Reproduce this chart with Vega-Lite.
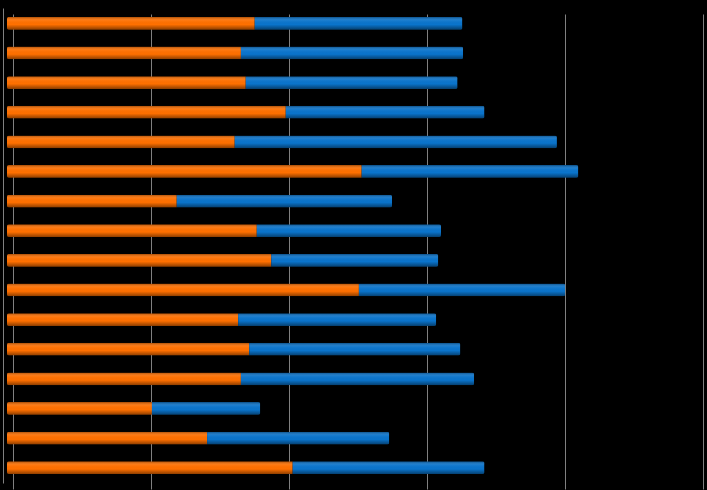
{
  "$schema": "https://vega.github.io/schema/vega-lite/v6.json",
  "width": 690,
  "height": 475,
  "autosize": "none",
  "padding": {"left": 7, "top": 8, "right": 10, "bottom": 7},
  "background": "#000000",
  "config": {"view": {"stroke": null}},
  "data": {"values": [
    {"cat": "1", "serie": "Serie 1", "v": 35.9}, {"cat": "1", "serie": "Serie 2", "v": 30.1},
    {"cat": "2", "serie": "Serie 1", "v": 33.9}, {"cat": "2", "serie": "Serie 2", "v": 32.2},
    {"cat": "3", "serie": "Serie 1", "v": 34.6}, {"cat": "3", "serie": "Serie 2", "v": 30.7},
    {"cat": "4", "serie": "Serie 1", "v": 40.4}, {"cat": "4", "serie": "Serie 2", "v": 28.8},
    {"cat": "5", "serie": "Serie 1", "v": 33.0}, {"cat": "5", "serie": "Serie 2", "v": 46.7},
    {"cat": "6", "serie": "Serie 1", "v": 51.4}, {"cat": "6", "serie": "Serie 2", "v": 31.4},
    {"cat": "7", "serie": "Serie 1", "v": 24.6}, {"cat": "7", "serie": "Serie 2", "v": 31.2},
    {"cat": "8", "serie": "Serie 1", "v": 36.2}, {"cat": "8", "serie": "Serie 2", "v": 26.7},
    {"cat": "9", "serie": "Serie 1", "v": 38.3}, {"cat": "9", "serie": "Serie 2", "v": 24.2},
    {"cat": "10", "serie": "Serie 1", "v": 51.0}, {"cat": "10", "serie": "Serie 2", "v": 29.9},
    {"cat": "11", "serie": "Serie 1", "v": 33.5}, {"cat": "11", "serie": "Serie 2", "v": 28.7},
    {"cat": "12", "serie": "Serie 1", "v": 35.1}, {"cat": "12", "serie": "Serie 2", "v": 30.6},
    {"cat": "13", "serie": "Serie 1", "v": 33.9}, {"cat": "13", "serie": "Serie 2", "v": 33.8},
    {"cat": "14", "serie": "Serie 1", "v": 21.0}, {"cat": "14", "serie": "Serie 2", "v": 15.7},
    {"cat": "15", "serie": "Serie 1", "v": 29.0}, {"cat": "15", "serie": "Serie 2", "v": 26.4},
    {"cat": "16", "serie": "Serie 1", "v": 41.4}, {"cat": "16", "serie": "Serie 2", "v": 27.8}
  ]},
  "encoding": {
    "y": {"field": "cat", "type": "nominal", "sort": null,
          "scale": {"paddingInner": 0.57, "paddingOuter": 0.3},
          "axis": {"labels": false, "ticks": false, "title": null, "domain": true, "domainColor": "#808080", "offset": 4, "grid": false}},
    "x": {"field": "v", "type": "quantitative", "stack": "zero",
          "scale": {"domain": [0, 100], "nice": false},
          "axis": {"labels": false, "ticks": false, "title": null, "values": [0, 20, 40, 60, 80, 100],
                   "grid": true, "gridColor": "#808080", "gridWidth": 1, "translate": 6.5,
                   "domain": true, "domainColor": "#808080", "offset": 5}},
    "order": {"field": "serie", "sort": "ascending"}
  },
  "layer": [
    {
      "mark": {"type": "bar", "cornerRadius": 2},
      "encoding": {
        "color": {"field": "serie", "type": "nominal",
                  "scale": {"domain": ["Serie 1", "Serie 2"], "range": ["#FF7000", "#0A74CC"]},
                  "legend": null}
      }
    },
    {
      "mark": {"type": "bar", "cornerRadius": 2,
               "fill": {"gradient": "linear", "x1": 0, "y1": 0, "x2": 0, "y2": 1,
                        "stops": [
                          {"offset": 0, "color": "rgba(0,0,0,0.35)"},
                          {"offset": 0.3, "color": "rgba(255,255,255,0.05)"},
                          {"offset": 0.6, "color": "rgba(0,0,0,0)"},
                          {"offset": 1, "color": "rgba(0,0,0,0.45)"}
                        ]}}
    }
  ]
}
